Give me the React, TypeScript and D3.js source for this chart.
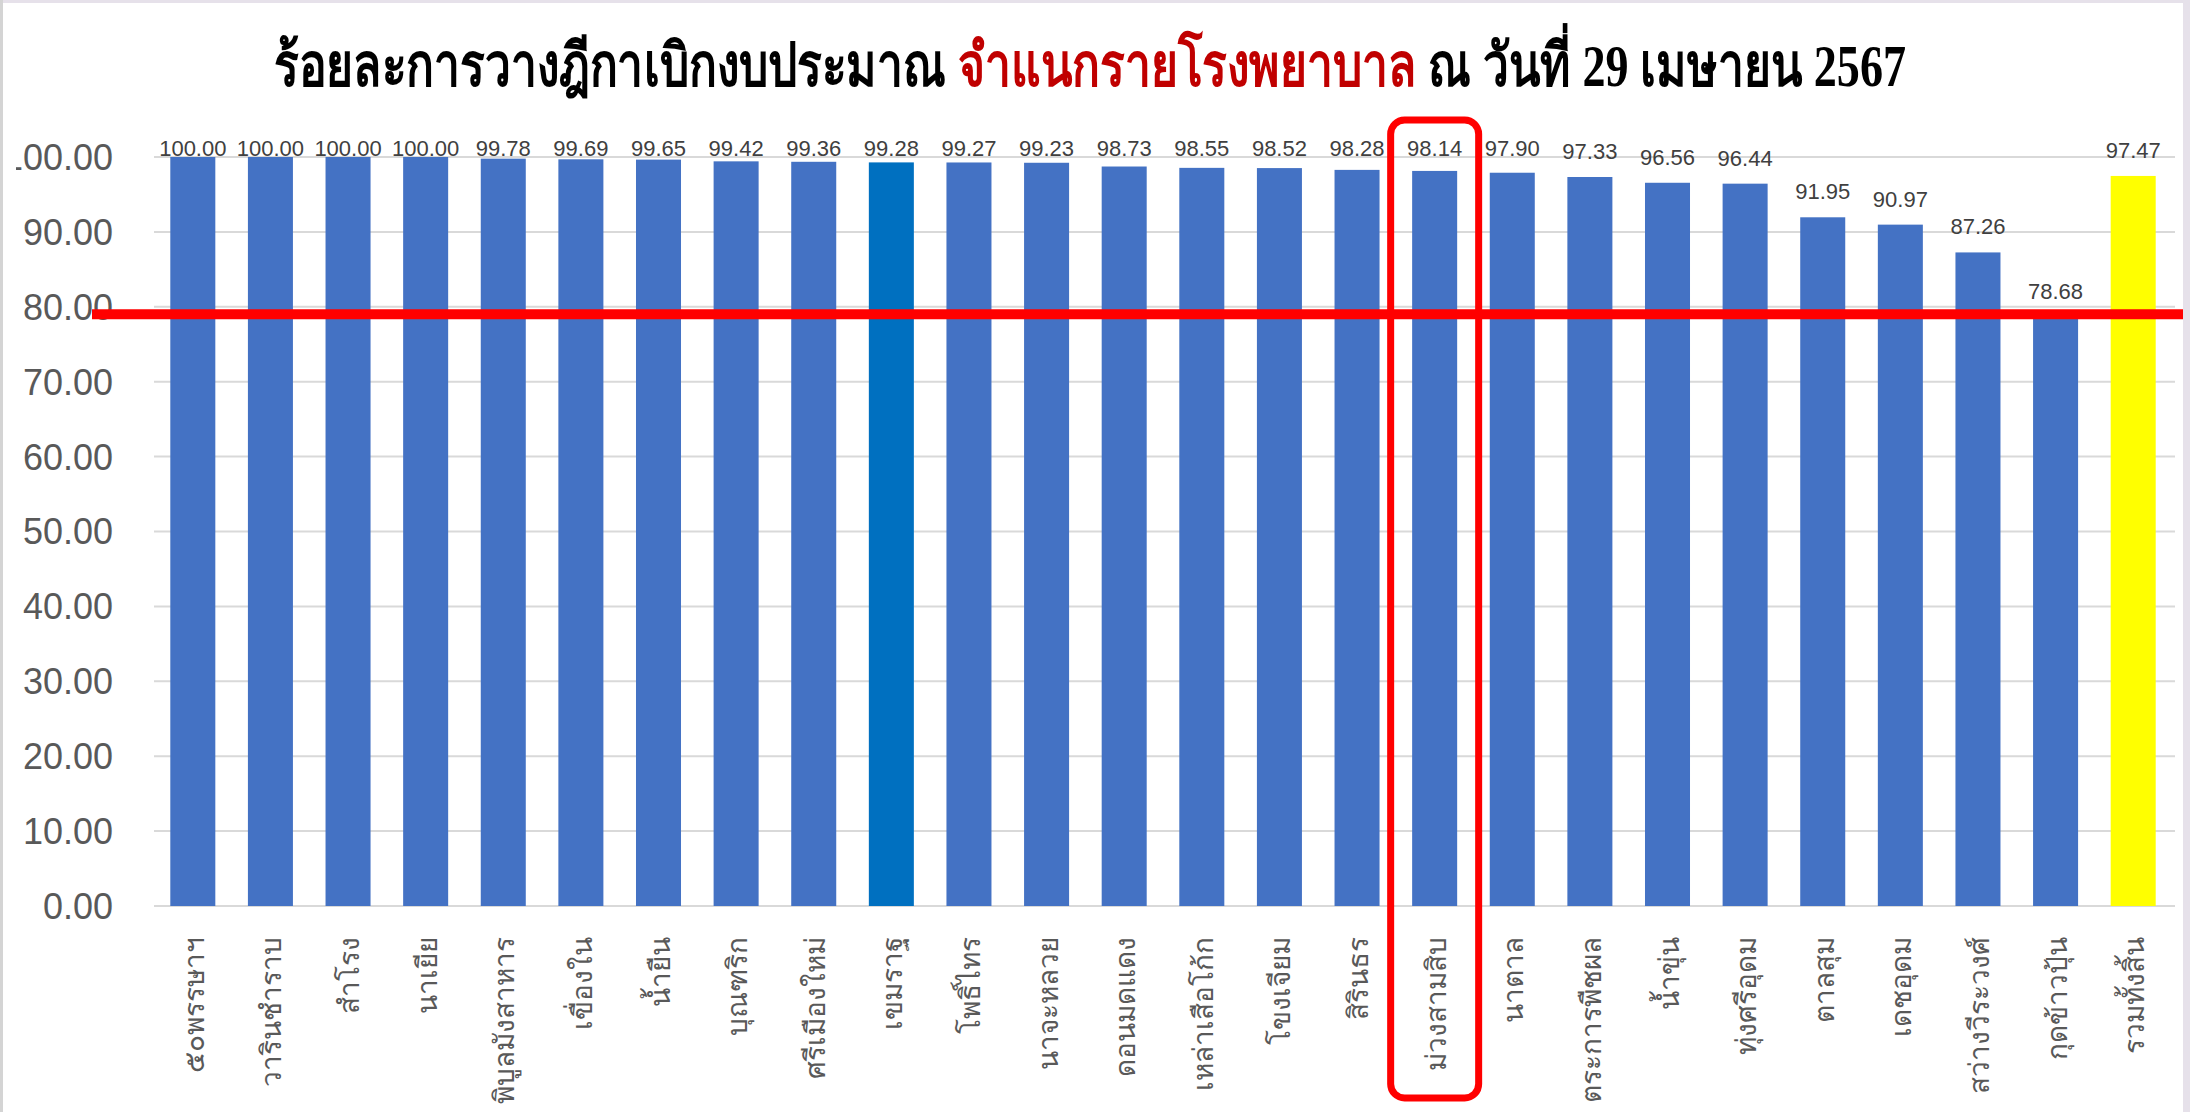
import React from "react";
import * as d3 from "d3";

const categories: string[] = [
  "๕๐พรรษาฯ",
  "วารินชำราบ",
  "สำโรง",
  "นาเยีย",
  "พิบูลมังสาหาร",
  "เขื่องใน",
  "น้ำยืน",
  "บุณฑริก",
  "ศรีเมืองใหม่",
  "เขมราฐ",
  "โพธิ์ไทร",
  "นาจะหลวย",
  "ดอนมดแดง",
  "เหล่าเสือโก้ก",
  "โขงเจียม",
  "สิรินธร",
  "ม่วงสามสิบ",
  "นาตาล",
  "ตระการพืชผล",
  "น้ำขุ่น",
  "ทุ่งศรีอุดม",
  "ตาลสุม",
  "เดชอุดม",
  "สว่างวีระวงศ์",
  "กุดข้าวปุ้น",
  "รวมทั้งสิ้น",
];

const values: number[] = [
  100.0, 100.0, 100.0, 100.0, 99.78, 99.69, 99.65, 99.42, 99.36, 99.28, 99.27,
  99.23, 98.73, 98.55, 98.52, 98.28, 98.14, 97.9, 97.33, 96.56, 96.44, 91.95,
  90.97, 87.26, 78.68, 97.47,
];

const yTicks: number[] = [0, 10, 20, 30, 40, 50, 60, 70, 80, 90, 100];
const targetValue = 79;
const highlightCategory = "ม่วงสามสิบ";
const darkCategory = "เขมราฐ";
const totalCategory = "รวมทั้งสิ้น";

const titleParts: { text: string; color: string }[] = [
  { text: "ร้อยละการวางฎีกาเบิกงบประมาณ ", color: "#000000" },
  { text: "จำแนกรายโรงพยาบาล", color: "#c00000" },
  { text: " ณ  วันที่  29 เมษายน 2567", color: "#000000" },
];

const W = 2190;
const H = 1112;

export default function App() {
  const x = d3
    .scaleBand<string>()
    .domain(categories)
    .range([154, 2172])
    .paddingInner(0.42)
    .paddingOuter(0.21);
  const y = d3.scaleLinear().domain([0, 100]).range([906, 157]);

  const barColor = (c: string) =>
    c === totalCategory ? "#ffff00" : c === darkCategory ? "#0070c0" : "#4472c4";

  const hx = (x(highlightCategory) ?? 0) + x.bandwidth() / 2;

  return (
    <svg
      width={W}
      height={H}
      viewBox={`0 0 ${W} ${H}`}
      style={{ position: "absolute", left: 0, top: 0, display: "block" }}
    >
      <defs>
        <clipPath id="ylabclip">
          <rect x={16} y={0} width={200} height={H} />
        </clipPath>
      </defs>
      <rect x={0} y={0} width={W} height={H} fill="#ffffff" />
      {/* frame */}
      <rect x={0} y={0} width={W} height={3} fill="#e6e1ea" />
      <rect x={2183} y={0} width={7} height={H} fill="#e6e1ea" />
      <rect x={0} y={0} width={3} height={H} fill="#d4d4d4" />

      {/* title */}
      <text
        x={1090}
        y={86}
        textAnchor="middle"
        fontFamily="'Liberation Serif', 'DejaVu Serif', serif"
        fontWeight="bold"
        fontSize={60}
        textLength={1632}
        lengthAdjust="spacingAndGlyphs"
      >
        {titleParts.map((p, i) => (
          <tspan key={i} fill={p.color}>
            {p.text}
          </tspan>
        ))}
      </text>

      {/* gridlines */}
      {yTicks.map((t) => (
        <line
          key={t}
          x1={154}
          x2={2175}
          y1={y(t)}
          y2={y(t)}
          stroke="#d9d9d9"
          strokeWidth={2}
        />
      ))}

      {/* y labels */}
      <g clipPath="url(#ylabclip)">
        {yTicks.map((t) => (
          <text
            key={t}
            x={113}
            y={y(t)}
            dy="0.36em"
            textAnchor="end"
            fontFamily="'Liberation Sans', Arial, sans-serif"
            fontSize={36}
            fill="#595959"
          >
            {t.toFixed(2)}
          </text>
        ))}
      </g>

      {/* bars */}
      {categories.map((c, i) => (
        <rect
          key={c}
          x={x(c)}
          y={y(values[i])}
          width={x.bandwidth()}
          height={y(0) - y(values[i])}
          fill={barColor(c)}
        />
      ))}

      {/* data labels */}
      {categories.map((c, i) => (
        <text
          key={c}
          x={(x(c) ?? 0) + x.bandwidth() / 2}
          y={Math.max(y(values[i]) - 18, 156)}
          textAnchor="middle"
          fontFamily="'Liberation Sans', Arial, sans-serif"
          fontSize={22}
          fill="#404040"
        >
          {values[i].toFixed(2)}
        </text>
      ))}

      {/* x labels */}
      {categories.map((c) => {
        const cx = (x(c) ?? 0) + x.bandwidth() / 2;
        return (
          <text
            key={c}
            transform={`translate(${cx},937) rotate(-90)`}
            textAnchor="end"
            dominantBaseline="central"
            fontFamily="'Noto Sans', 'DejaVu Sans', sans-serif"
            fontSize={28}
            fill="#595959"
          >
            {c}
          </text>
        );
      })}

      {/* target line */}
      <line
        x1={92}
        x2={2183}
        y1={y(targetValue)}
        y2={y(targetValue)}
        stroke="#ff0000"
        strokeWidth={10}
      />

      {/* highlight box */}
      <rect
        x={hx - 44}
        y={120}
        width={88}
        height={978}
        rx={14}
        ry={14}
        fill="none"
        stroke="#ff0000"
        strokeWidth={7}
      />
    </svg>
  );
}
